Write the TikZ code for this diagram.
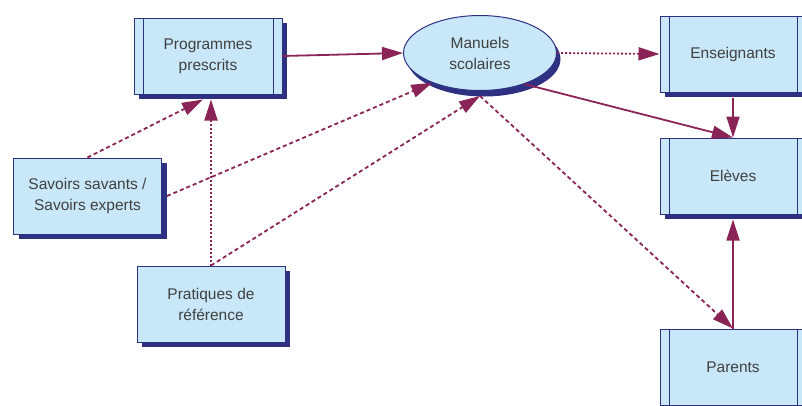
\documentclass[tikz,border=0pt]{standalone}
\usepackage{fontspec}
\setmainfont{Liberation Sans}
\usetikzlibrary{positioning, arrows.meta, shapes.geometric, shadows}
\definecolor{boxfill}{HTML}{C8E7F8}
\definecolor{boxline}{HTML}{2E3182}
\definecolor{linkred}{HTML}{8A2456}
\definecolor{textgray}{HTML}{404040}

\begin{document}
\begin{tikzpicture}[x=1pt, y=-1pt, ->, >={Triangle[length=21pt,width=13pt]},
        every node/.style={text=textgray, font=\fontsize{15.5}{21}\selectfont, align=center},
        box/.style={draw=boxline, line width=1pt, fill=boxfill, minimum width=148pt, minimum height=76pt,
            drop shadow={shadow xshift=5pt, shadow yshift=-5pt, fill=boxline, opacity=1}},
        procbox/.style={box, path picture={
            \draw[-, boxline, line width=1pt] ([xshift=9pt]path picture bounding box.north west) -- ([xshift=9pt]path picture bounding box.south west);
            \draw[-, boxline, line width=1pt] ([xshift=-9pt]path picture bounding box.north east) -- ([xshift=-9pt]path picture bounding box.south east);}},
        ellbox/.style={ellipse, draw=boxline, line width=1pt, fill=boxfill, minimum width=153pt, minimum height=75pt, inner sep=0pt,
            drop shadow={shadow xshift=4pt, shadow yshift=-6pt, fill=boxline, opacity=1}},
        link/.style={draw=linkred, line width=1.8pt},
        dashlink/.style={link, dash pattern=on 4pt off 3pt},
        dotlink/.style={link, dash pattern=on 2pt off 2pt}]
        \useasboundingbox (0,0) rectangle (802,405);
        \node[procbox] (prog) at (208,56) {Programmes\\prescrits};
        \node[ellbox] (man) at (480,53) {Manuels\\scolaires};
        \node[procbox, minimum width=146pt] (ens) at (733,54) {Enseignants};
        \node[procbox, minimum width=146pt] (elev) [below = 45pt of ens] {Elèves};
        \node[procbox, minimum width=146pt] (par) [below = 114pt of elev] {Parents};
        \node[box] (sav) at (87.5,196) {Savoirs savants /\\Savoirs experts};
        \node[box] (prat) at (211,304) {Pratiques de\\référence};
        \draw[link] (prog.east) -- (man.west);
        \draw[dotlink] (man.east) -- (ens.west);
        \draw[link] (man.-35) -- (elev.north);
        \draw[link] ([yshift=-5pt]ens.south) -- (elev.north);
        \draw[link] (par.north) -- ([yshift=-5pt]elev.south);
        \draw[dashlink] ([yshift=-5pt]man.south) -- (par.north);
        \draw[dashlink] (sav.north) -- ([xshift=-5pt,yshift=-5pt]prog.south);
        \draw[dotlink] (prat.north) -- ([xshift=3pt,yshift=-5pt]prog.south);
        \draw[dashlink] ([xshift=5pt]sav.east) -- (man.-148);
        \draw[dashlink] (prat.north) -- ([yshift=-5pt]man.south);
    \end{tikzpicture}
\end{document}
